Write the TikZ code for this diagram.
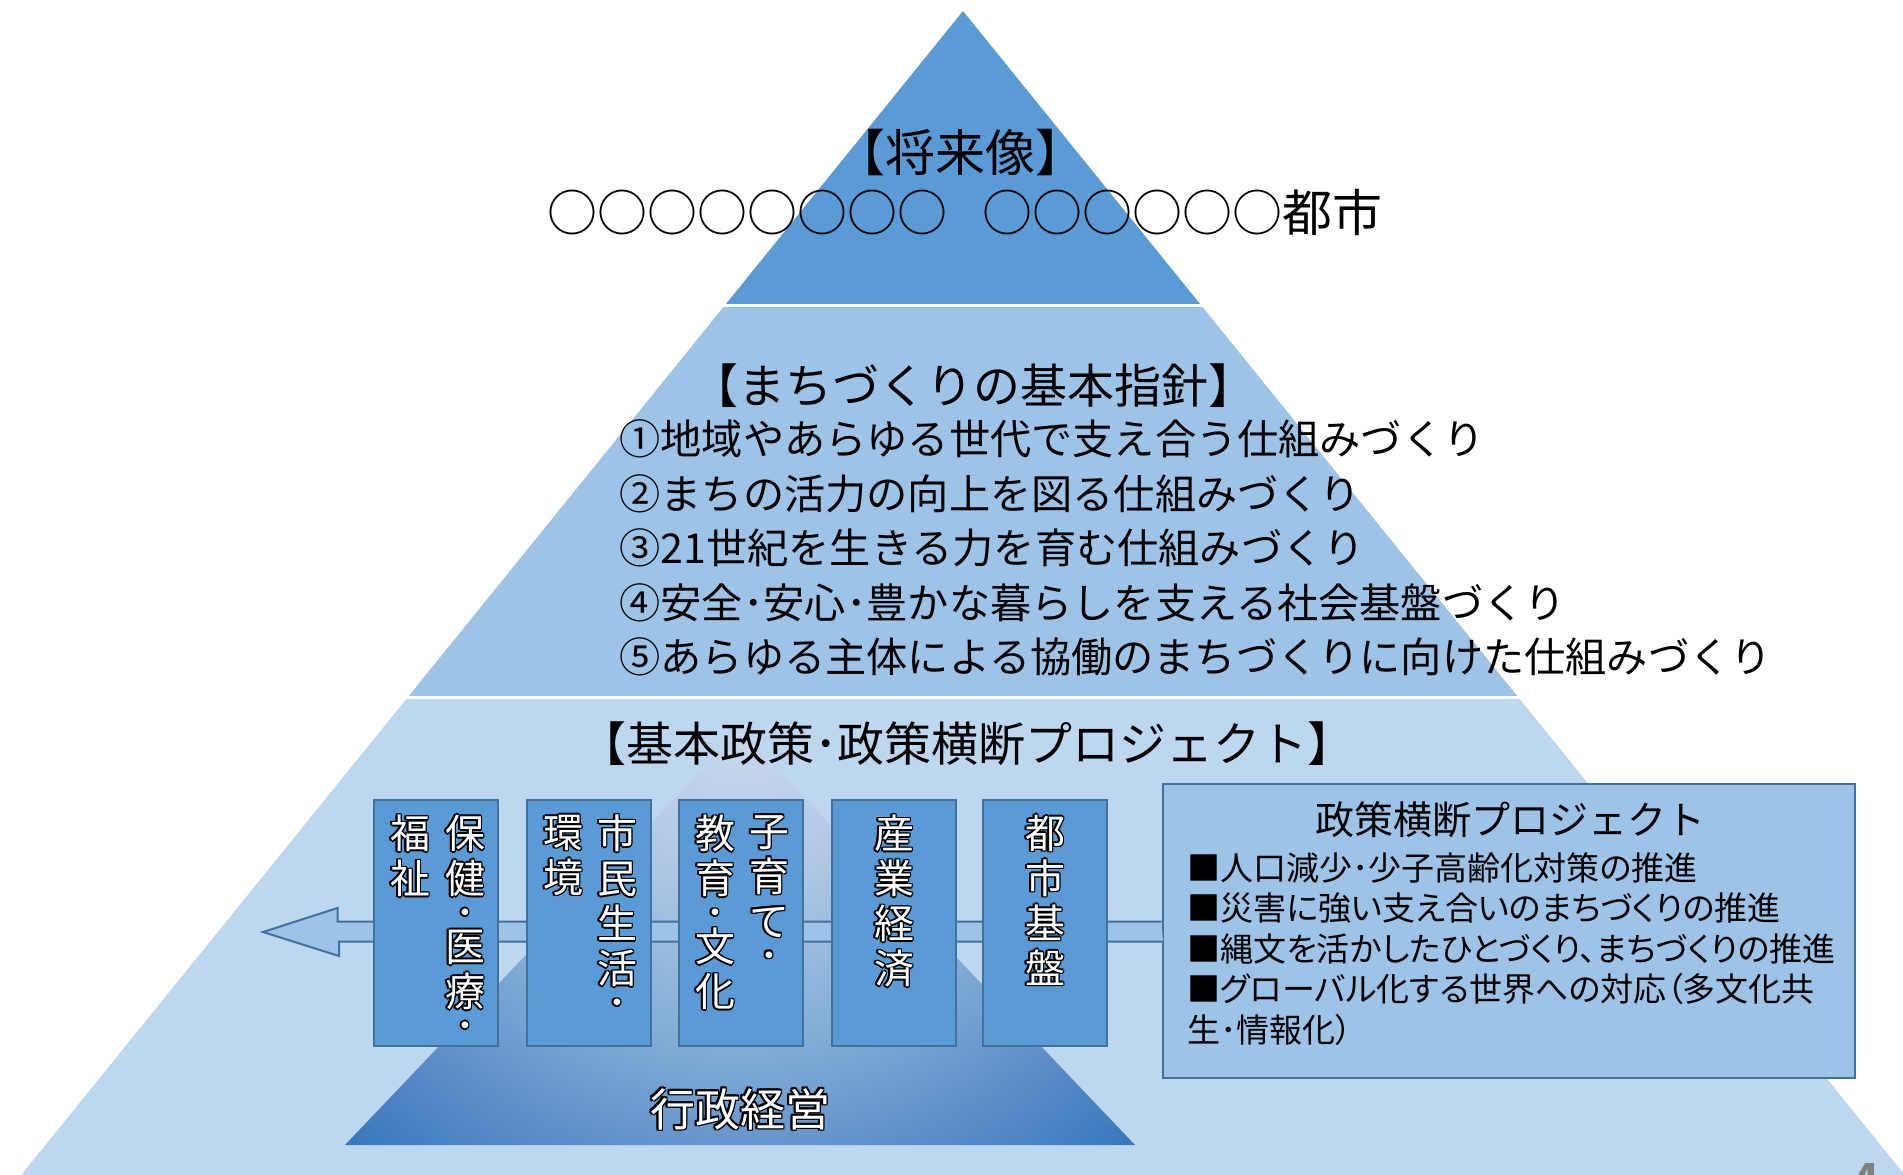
\documentclass[tikz,border=0pt]{standalone}
\usepackage{fontspec}
\setmainfont{Noto Sans CJK JP}
\newfontfamily\propfont{Noto Sans CJK JP}[RawFeature=+palt]

\definecolor{apexblue}{HTML}{5B9BD5}
\definecolor{midblue}{HTML}{9DC3E6}
\definecolor{lowblue}{HTML}{BDD7EE}
\definecolor{edgeblue}{HTML}{41719C}

\pgfdeclareradialshading{apexglow}{\pgfpointorigin}{rgb(0bp)=(0.79,0.85,0.93);
  rgb(6bp)=(0.70,0.79,0.90); rgb(13.5bp)=(0.51,0.68,0.84);
  rgb(19bp)=(0.37,0.56,0.79); rgb(25bp)=(0.21,0.46,0.74);
  rgb(50bp)=(0.21,0.46,0.74)}

\newsavebox\halobox
\newcommand{\halo}[1]{\sbox\halobox{\color{black}#1}%
  \foreach \hx/\hy in {0.8/0,-0.8/0,0/0.8,0/-0.8,0.57/0.57,-0.57/0.57,0.57/-0.57,-0.57/-0.57}{%
    \rlap{\hspace{\hx pt}\raisebox{\hy pt}{\usebox\halobox}}}%
  #1}
\newcommand{\vcol}[1]{\vtop{\baselineskip=22.5pt\lineskiplimit=-30pt\lineskip=0pt
  \halign{\hfil##\hfil\cr#1\crcr}}}
\newcommand{\dotrow}{\noalign{\vskip-5.5pt}}

\begin{document}
\begin{tikzpicture}[x=0.5pt,y=-0.5pt,
  pbox/.style={draw=edgeblue, line width=1pt, fill=apexblue, inner sep=0pt,
    minimum width=62pt, minimum height=123pt},
  vtext/.style={text=white, inner sep=0pt, anchor=north,
    font=\fontsize{20pt}{22.5pt}\selectfont},
  band/.style={draw=edgeblue, line width=1pt, fill=midblue},
  head/.style={inner sep=0pt, font=\fontsize{23.5pt}{28pt}\selectfont}]

  \path[use as bounding box, fill=white] (0,0) rectangle (1903,1174);

  % pyramid layers
  \begin{scope}
    \clip (963,11) -- (1925,1200) -- (1,1200) -- cycle;
    \fill[apexblue] (0,0) rectangle (1903,304);
    \fill[midblue] (0,307) rectangle (1903,696);
    \fill[lowblue] (0,699) rectangle (1950,1200);
  \end{scope}

  \begin{scope}
    \clip (740,730) -- (1135,1145) -- (345,1145) -- cycle;
    \shade[shading=apexglow] (740,730) circle [radius=580];
  \end{scope}

  \node[head, font=\fontsize{25pt}{30pt}\selectfont] (future) at (960,152) {【将来像】};
  \node[inner sep=0pt, font=\fontsize{25pt}{30pt}\selectfont] (vision) at (965,212)
    {○○○○○○○○\hspace{0.7em}○○○○○○都市};

  \node[head] (guide) at (973,386) {【まちづくりの基本指針】};
  \node[anchor=west, align=left, inner sep=0pt,
    font=\fontsize{20.6pt}{27.3pt}\selectfont] (guidelist) at (619,548)
    {①地域やあらゆる世代で支え合う仕組みづくり\\
     ②まちの活力の向上を図る仕組みづくり\\
     ③21世紀を生きる力を育む仕組みづくり\\
     ④安全･安心･豊かな暮らしを支える社会基盤づくり\\
     ⑤あらゆる主体による協働のまちづくりに向けた仕組みづくり};

  \node[head] (policy) at (967,744) {【基本政策･政策横断プロジェクト】};

  \node[draw=edgeblue, line width=1pt, fill=midblue, minimum width=346pt,
    minimum height=147pt] (proj) at (1508.5,931) {};
  \coordinate (tip) at (263,932);
  \draw[band] (proj.west) ++(0,-9.5) -- ++(-824,0) -- ++(0,-13.5) -- (tip)
    -- ++(76,24) -- ++(0,-14.5) -- ++(824,0);

  \foreach \i/\x in {1/436,2/589,3/741,4/894,5/1045}
    \node[pbox] (b\i) at (\x,923) {};

  \node[vtext] (hoken) at (465,813)
    {\halo{\vcol{保\cr 健\cr\dotrow ･\cr\dotrow 医\cr 療\cr\dotrow ･}}};
  \node[vtext] (fukushi) at (410,813) {\halo{\vcol{福\cr 祉}}};
  \node[vtext] (shimin) at (617,813)
    {\halo{\vcol{市\cr 民\cr 生\cr 活\cr\dotrow ･}}};
  \node[vtext] (kankyo) at (563,813) {\halo{\vcol{環\cr 境}}};
  \node[vtext] (kosodate) at (769,813)
    {\halo{\vcol{子\cr 育\cr て\cr\dotrow ･}}};
  \node[vtext] (kyoiku) at (715,813)
    {\halo{\vcol{教\cr 育\cr\dotrow ･\cr\dotrow 文\cr 化}}};
  \node[vtext] (sangyo) at (894,813) {\halo{\vcol{産\cr 業\cr 経\cr 済}}};
  \node[vtext] (toshi) at (1045,813) {\halo{\vcol{都\cr 市\cr 基\cr 盤}}};

  \node[text=white, inner sep=0pt, font=\fontsize{22.5pt}{27pt}\selectfont]
    (gyosei) at (740,1109) {\halo{行政経営}};

  \node[inner sep=0pt, font=\fontsize{19.5pt}{23pt}\selectfont] (projtitle)
    at (1510,820) {政策横断プロジェクト};
  \node[anchor=west, align=left, inner sep=0pt,
    font=\propfont\fontsize{16.5pt}{20.2pt}\selectfont] (projlist) at (1187,949)
    {■人口減少･少子高齢化対策の推進\\
     ■災害に強い支え合いのまちづくりの推進\\
     ■縄文を活かしたひとづくり、まちづくりの推進\\
     ■グローバル化する世界への対応（多文化共\\
     生･情報化）};

  \node[text=black!50, inner sep=0pt, font=\fontsize{20pt}{24pt}\selectfont\bfseries]
    (pagenum) at (1867,1178) {4};

\end{tikzpicture}
\end{document}
